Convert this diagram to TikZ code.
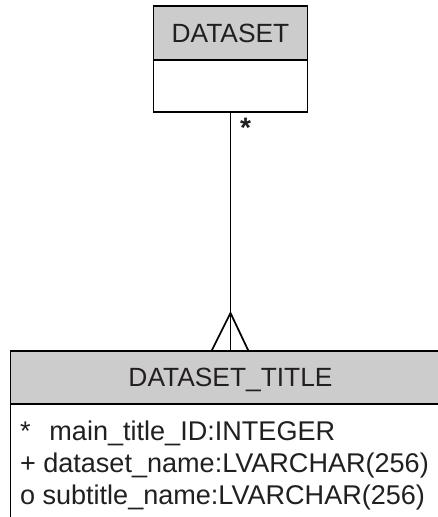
\documentclass[tikz,border=0pt]{standalone}
\usepackage{fontspec}
\setmainfont{Liberation Sans}
\usetikzlibrary{positioning,calc}
\definecolor{headgray}{RGB}{204,204,204}
\definecolor{inkgray}{RGB}{35,31,32}

\begin{document}
\begin{tikzpicture}[x=0.02cm, y=-0.02cm,
    font=\fontsize{15}{17}\selectfont,
    every node/.style={text=inkgray, outer sep=0pt},
    headbox/.style={draw=black, line width=1pt, fill=headgray, text depth=0pt, inner sep=0pt},
    bodybox/.style={draw=black, line width=1pt, fill=white, inner sep=0pt},
    rowtext/.style={anchor=base west, inner sep=0pt, font=\fontsize{15.4}{17}\selectfont}]
    % Frame
    \useasboundingbox (0,0) rectangle (438,517);
    \clip (0,0) rectangle (438,517);

    % DATASET table
    \node[headbox, minimum width=3.08cm, minimum height=1.08cm] (dataset) at (230.5,33) {DATASET};
    \node[bodybox, minimum width=3.08cm, minimum height=1.04cm, below=0pt of dataset] (datasetbody) {};

    % DATASET_TITLE table
    \node[headbox, minimum width=8.8cm, minimum height=1.06cm] (title) at (230.5,377.5) {DATASET\_TITLE};
    \node[bodybox, minimum width=8.8cm, minimum height=2.6cm, below=0pt of title] (titlebody) {};

    % Attributes
    \node[rowtext] (mainid) at (20,440) {*\hspace{0.7em}main\_title\_ID:INTEGER};
    \node[rowtext] (dsname) at (20,472) {+ dataset\_name:LVARCHAR(256)};
    \node[rowtext] (subname) at (20,504) {o subtitle\_name:LVARCHAR(256)};

    % Relationship
    \draw[line width=1pt] (datasetbody.south) -- (title.north);
    \coordinate (fork) at ($(title.north)+(0,-38)$);
    \draw[line width=1pt] ($(title.north)+(-19,0)$) -- (fork) -- ($(title.north)+(18,0)$);
    \node[font=\fontsize{16}{17}\selectfont\bfseries] (many) at ($(datasetbody.south)+(15,16)$) {*};
\end{tikzpicture}
\end{document}
